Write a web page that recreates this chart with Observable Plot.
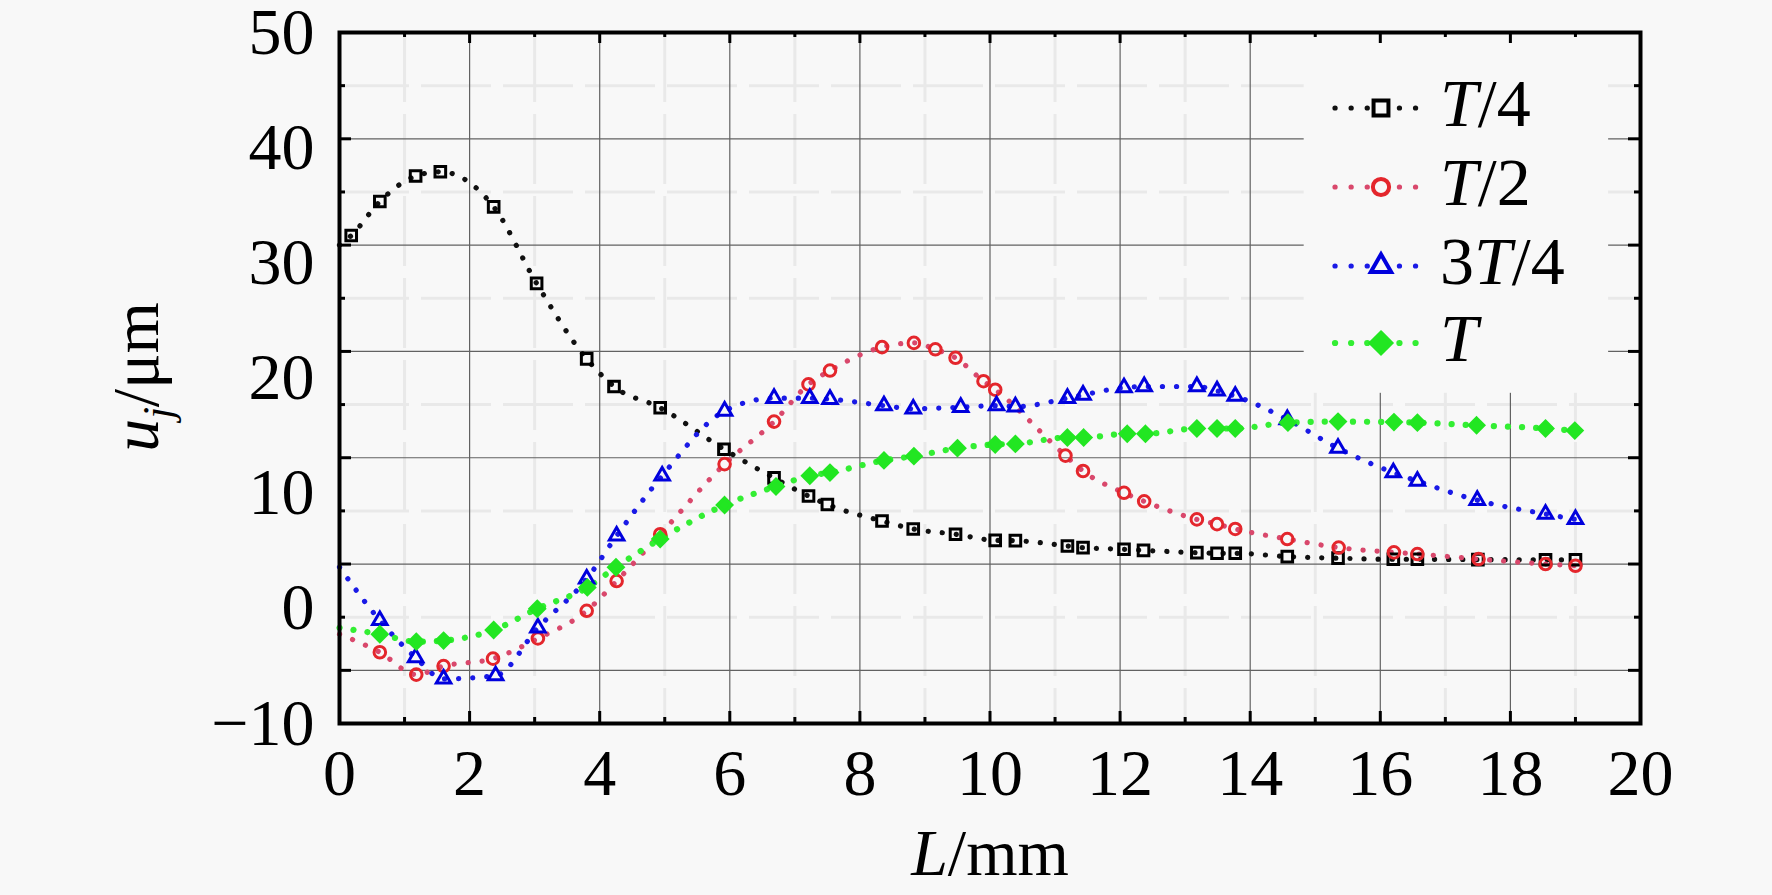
<!DOCTYPE html>
<html>
<head>
<meta charset="utf-8">
<script src="https://cdn.jsdelivr.net/npm/d3@7"></script>
<script src="https://cdn.jsdelivr.net/npm/@observablehq/plot@0.6"></script>
<style>
  html, body { margin: 0; padding: 0; background: #f8f8f8; overflow: hidden; }
  #chart svg { display: block; }
</style>
</head>
<body>
<div id="chart"></div>
<script>
// ---------------- data ----------------
const seriesNames = ["T/4", "T/2", "3T/4", "T"];

const L_T4 = [0, 0.18, 0.62, 1.17, 1.55, 2.37, 3.03, 3.80, 4.22, 4.93, 5.91, 6.68, 7.21, 7.50, 8.34, 8.82, 9.47, 10.08, 10.39, 11.19, 11.43, 12.06, 12.36, 13.18, 13.49, 13.77, 14.57, 15.35, 16.20, 16.57, 17.50, 18.54, 19.00];
const U_T4 = [30.0, 30.9, 34.1, 36.5, 36.9, 33.6, 26.4, 19.3, 16.7, 14.7, 10.8, 8.1, 6.4, 5.6, 4.05, 3.3, 2.8, 2.23, 2.2, 1.7, 1.54, 1.39, 1.29, 1.07, 1.01, 1.01, 0.7, 0.55, 0.45, 0.45, 0.42, 0.4, 0.4];

const L_T2 = [0, 0.62, 1.18, 1.60, 2.36, 3.05, 3.80, 4.26, 4.93, 5.92, 6.68, 7.21, 7.54, 8.34, 8.83, 9.16, 9.47, 9.90, 10.08, 11.16, 11.43, 12.06, 12.37, 13.18, 13.49, 13.77, 14.57, 15.36, 16.21, 16.57, 17.51, 18.54, 19.00];
const U_T2 = [-6.6, -8.3, -10.4, -9.6, -8.9, -7.0, -4.4, -1.6, 2.8, 9.4, 13.4, 16.9, 18.2, 20.4, 20.8, 20.2, 19.4, 17.2, 16.4, 10.2, 8.75, 6.7, 5.9, 4.2, 3.75, 3.3, 2.35, 1.55, 1.1, 0.94, 0.47, 0.0, -0.16];

const L_3T4 = [0, 0.62, 1.17, 1.60, 2.40, 3.05, 3.80, 4.26, 4.96, 5.92, 6.68, 7.23, 7.54, 8.37, 8.82, 9.55, 10.10, 10.39, 11.19, 11.43, 12.06, 12.37, 13.18, 13.49, 13.77, 14.57, 15.35, 16.20, 16.57, 17.49, 18.54, 19.00];
const U_3T4 = [-0.3, -5.3, -8.8, -10.8, -10.5, -6.0, -1.4, 2.65, 8.3, 14.4, 15.6, 15.6, 15.5, 14.9, 14.6, 14.75, 14.9, 14.8, 15.6, 15.9, 16.6, 16.7, 16.7, 16.3, 15.8, 13.6, 10.9, 8.6, 7.8, 6.0, 4.7, 4.2];

const L_T = [0, 0.62, 1.18, 1.60, 2.37, 3.04, 3.81, 4.25, 4.93, 5.92, 6.71, 7.23, 7.54, 8.37, 8.83, 9.50, 10.08, 10.39, 11.19, 11.44, 12.11, 12.39, 13.18, 13.49, 13.77, 14.58, 15.35, 16.21, 16.57, 17.48, 18.54, 18.99];
const U_T = [-6.0, -6.6, -7.3, -7.2, -6.2, -4.2, -2.2, -0.3, 2.35, 5.55, 7.3, 8.3, 8.6, 9.75, 10.15, 10.9, 11.25, 11.3, 11.9, 11.9, 12.25, 12.25, 12.75, 12.75, 12.75, 13.3, 13.4, 13.35, 13.3, 13.05, 12.75, 12.55];

// axis ticks
const xTickLabels = [0, 2, 4, 6, 8, 10, 12, 14, 16, 18, 20];
const xMinorTicks = [1, 3, 5, 7, 9, 11, 13, 15, 17, 19];
const yTickLabels = ["50", "40", "30", "20", "10", "0", "\u221210"];
const yGridMajor = [40, 30, 20, 10, 0, -10];
const yGridMinor = [45, 35, 25, 15, 5, -5];
const yDomain = [-15, 50];
const xDomain = [0, 20];

// ---------------- styles ----------------
const bg = "#f8f8f8";
const styles = {
  "T/4":  {line: "#111111", symbol: "square",   stroke: "#000000", fill: "none",    r: 6.0, d3sym: d3.symbolSquare,   lw: 5.2},
  "T/2":  {line: "#d9486c", symbol: "circle",   stroke: "#e4262c", fill: "none",    r: 5.8, d3sym: d3.symbolCircle,   lw: 5.2},
  "3T/4": {line: "#1a1ae6", symbol: "triangle", stroke: "#0000dd", fill: "none",    r: 5.4, d3sym: d3.symbolTriangle, lw: 5.2},
  "T":    {line: "#33ee33", symbol: "diamond2", stroke: "#22e622", fill: "#22e622", r: 6.6, d3sym: d3.symbolDiamond2, lw: 6.2}
};

const seriesData = {
  "T/4": L_T4.map((L, i) => ({L, u: U_T4[i]})),
  "T/2": L_T2.map((L, i) => ({L, u: U_T2[i]})),
  "3T/4": L_3T4.map((L, i) => ({L, u: U_3T4[i]})),
  "T": L_T.map((L, i) => ({L, u: U_T[i]}))
};

// layout
const W = 1772, H = 895;
const mL = 339, mR = 132, mT = 32, mB = 172;
const frameW = W - mL - mR, frameH = H - mT - mB;

// tick labels are spread evenly over the frame
const yLabelPos = yTickLabels.map((_, i) => yDomain[1] - i * (yDomain[1] - yDomain[0]) / (yTickLabels.length - 1));
const labelByPos = new Map(yLabelPos.map((p, i) => [p, yTickLabels[i]]));

const yTicksMajor = [-10, 0, 10, 20, 30, 40];
const yTicksMinor = yGridMinor;

const serif = "'Liberation Serif', 'Times New Roman', Times, serif";

const seriesMarks = [];
for (const name of seriesNames) {
  const s = styles[name];
  const rows = seriesData[name];
  seriesMarks.push(Plot.line(rows, {
    x: "L", y: "u", curve: "monotone-x",
    stroke: s.line, strokeWidth: s.lw, strokeDasharray: "0.1 14", strokeLinecap: "round"
  }));
}
for (const name of seriesNames) {
  const s = styles[name];
  const rows = seriesData[name].slice(1);
  seriesMarks.push(Plot.dot(rows, {
    x: "L", y: "u", symbol: s.symbol, r: s.r,
    stroke: s.stroke, fill: s.fill, strokeWidth: 3
  }));
}

// legend backdrop (hides the grid behind the legend)
const legendBox = [{x1: 14.83, x2: 19.51, y1: 16.06, y2: 50}];

const svg = Plot.plot({
  width: W, height: H,
  marginLeft: mL, marginRight: mR, marginTop: mT, marginBottom: mB,
  x: {domain: xDomain, axis: null},
  y: {domain: yDomain, axis: null},
  style: {background: bg, fontFamily: serif, fontSize: "66px", color: "black"},
  marks: [
    Plot.ruleX(xMinorTicks, {stroke: "#e9e9e9", strokeWidth: 3, strokeDasharray: "70 12"}),
    Plot.ruleY(yGridMinor, {stroke: "#e9e9e9", strokeWidth: 3, strokeDasharray: "70 12"}),
    Plot.ruleX(xTickLabels.slice(1, -1), {stroke: "#626262", strokeWidth: 1.2}),
    Plot.ruleY(yGridMajor, {stroke: "#626262", strokeWidth: 1.2}),
    Plot.rect(legendBox, {x1: "x1", x2: "x2", y1: "y1", y2: "y2", fill: bg}),
    ...seriesMarks,
    // inward ticks on all four sides
    Plot.tickX(xTickLabels, {x: d => d, stroke: "black", strokeWidth: 3, insetTop: frameH - 12}),
    Plot.tickX(xMinorTicks, {x: d => d, stroke: "black", strokeWidth: 3, insetTop: frameH - 6}),
    Plot.tickX(xTickLabels, {x: d => d, stroke: "black", strokeWidth: 3, insetBottom: frameH - 11}),
    Plot.tickX(xMinorTicks, {x: d => d, stroke: "black", strokeWidth: 3, insetBottom: frameH - 5}),
    Plot.tickY(yTicksMajor, {y: d => d, stroke: "black", strokeWidth: 3, insetRight: frameW - 12}),
    Plot.tickY(yTicksMinor, {y: d => d, stroke: "black", strokeWidth: 3, insetRight: frameW - 6}),
    Plot.tickY(yTicksMajor, {y: d => d, stroke: "black", strokeWidth: 3, insetLeft: frameW - 12}),
    Plot.tickY(yTicksMinor, {y: d => d, stroke: "black", strokeWidth: 3, insetLeft: frameW - 6}),
    Plot.axisX({ticks: xTickLabels, tickSize: 0, tickPadding: 25, fontSize: 66, label: null, tickFormat: d => String(d)}),
    Plot.axisY({ticks: yLabelPos, tickSize: 0, tickPadding: 25, fontSize: 66, label: null, tickFormat: d => labelByPos.get(d)}),
    Plot.frame({stroke: "black", strokeWidth: 4})
  ]
});

document.getElementById("chart").appendChild(svg);

// ---------------- axis titles ----------------
const s = d3.select(svg);
const yt = s.append("text")
  .attr("transform", "translate(158,377) rotate(-90)")
  .attr("text-anchor", "middle")
  .attr("font-family", serif)
  .attr("font-size", 66)
  .attr("fill", "black");
yt.append("tspan").attr("font-style", "italic").text("u");
yt.append("tspan").attr("font-style", "italic").attr("font-size", 42).attr("dy", 14).text("j");
yt.append("tspan").attr("dy", -14).text("/\u03bcm");

const xt = s.append("text")
  .attr("x", 990).attr("y", 875)
  .attr("text-anchor", "middle")
  .attr("font-family", serif)
  .attr("font-size", 66)
  .attr("fill", "black");
xt.append("tspan").attr("font-style", "italic").text("L");
xt.append("tspan").text("/mm");

// ---------------- legend ----------------
const legendRowsY = [108, 187, 266, 343];
const lg = s.append("g");
seriesNames.forEach((name, i) => {
  const st = styles[name];
  const y = legendRowsY[i];
  lg.append("line")
    .attr("x1", 1335).attr("x2", 1418).attr("y1", y).attr("y2", y)
    .attr("stroke", st.line).attr("stroke-width", st.lw)
    .attr("stroke-dasharray", "0.1 16").attr("stroke-linecap", "round");
  const rr = st.r * 1.4;
  lg.append("path")
    .attr("d", d3.symbol(st.d3sym, Math.PI * rr * rr)())
    .attr("transform", `translate(1381,${y})`)
    .attr("fill", st.fill === "none" ? bg : st.fill)
    .attr("stroke", st.stroke).attr("stroke-width", 4);
  const t = lg.append("text")
    .attr("x", 1440).attr("y", y + 18)
    .attr("text-anchor", "start")
    .attr("font-family", serif).attr("font-size", 68).attr("fill", "black");
  const parts = name.split(/(T)/).filter(p => p.length);
  for (const p of parts) {
    const ts = t.append("tspan").text(p);
    if (p === "T") ts.attr("font-style", "italic");
  }
});
</script>
</body>
</html>
